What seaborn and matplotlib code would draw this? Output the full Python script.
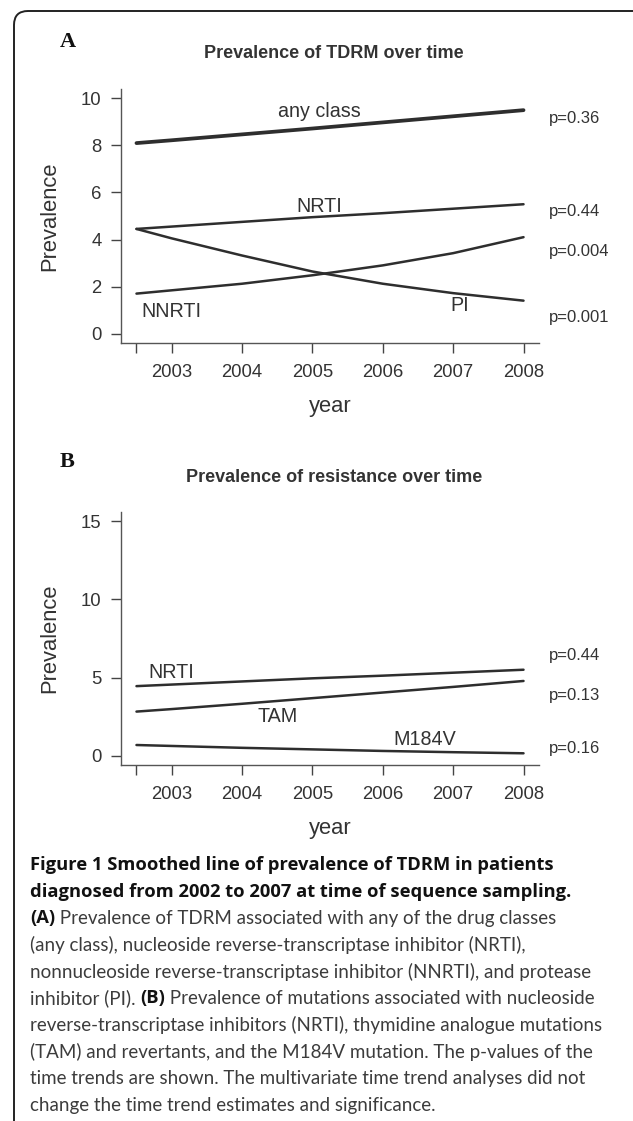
import pandas as pd
import matplotlib.pyplot as plt
import seaborn as sns
from matplotlib.patches import FancyBboxPatch
from matplotlib.text import Annotation

# panel A: smoothed prevalence of TDRM by drug class
years = [2002.5, 2003, 2004, 2005, 2006, 2007, 2008]
any_class = [8.10, 8.22, 8.47, 8.72, 8.98, 9.24, 9.50]
nrti = [4.45, 4.55, 4.75, 4.95, 5.12, 5.31, 5.50]
nnrti = [1.70, 1.84, 2.12, 2.48, 2.90, 3.42, 4.10]
pi = [4.45, 4.05, 3.32, 2.64, 2.12, 1.72, 1.40]

# panel B: smoothed prevalence of resistance mutations
nrti_b = [4.45, 4.55, 4.75, 4.95, 5.12, 5.31, 5.50]
tam = [2.82, 2.98, 3.32, 3.68, 4.04, 4.40, 4.78]
m184v = [0.68, 0.62, 0.50, 0.40, 0.30, 0.22, 0.15]

tick_years = [2002.5, 2003, 2004, 2005, 2006, 2007, 2008]
tick_labels = ["", "2003", "2004", "2005", "2006", "2007", "2008"]

df_a = pd.DataFrame({"year": years * 4,
                     "Prevalence": any_class + nrti + nnrti + pi,
                     "group": ["any class"] * 7 + ["NRTI"] * 7 + ["NNRTI"] * 7 + ["PI"] * 7})
df_b = pd.DataFrame({"year": years * 3,
                     "Prevalence": nrti_b + tam + m184v,
                     "group": ["NRTI"] * 7 + ["TAM"] * 7 + ["M184V"] * 7})

sns.set_style("ticks")
plt.rcParams["font.family"] = ["Liberation Sans", "DejaVu Sans"]

W, H = 633, 1121
fig = plt.figure(figsize=(W / 100, H / 100), dpi=100)

def px(x, y):
    return x / W, 1 - y / H

ink = "#333333"

def style_axes(ax, ymax, yticks):
    ax.set_xlim(2002.28, 2008.22)
    pad = ymax * 0.04
    ax.set_ylim(-pad, ymax + pad)
    ax.set_xticks(tick_years)
    ax.set_xticklabels(tick_labels)
    ax.set_yticks(yticks)
    sns.despine(ax=ax)
    for s in ["left", "bottom"]:
        ax.spines[s].set_color("#555555")
        ax.spines[s].set_linewidth(1.0)
    ax.tick_params(direction="out", length=7, width=1, color="#444444",
                   labelsize=13.3, labelcolor=ink)
    ax.tick_params(axis="x", pad=8)
    ax.tick_params(axis="y", pad=7)
    ax.set_xlabel("year", fontsize=15.8, color=ink, labelpad=11)
    ax.set_ylabel("Prevalence", fontsize=15.8, color=ink, labelpad=15)
    ax.set_facecolor("white")

# ---- panel A
ax1 = fig.add_axes([121 / W, 1 - 343 / H, 418 / W, 254 / H])
for name, lw in [("any class", 2.7), ("NRTI", 1.8), ("NNRTI", 1.8), ("PI", 1.8)]:
    sns.lineplot(data=df_a[df_a.group == name], x="year", y="Prevalence",
                 ax=ax1, color="#2e2e2e", linewidth=lw, legend=False)
style_axes(ax1, 10, [0, 2, 4, 6, 8, 10])
ax1.text(2005.1, 9.46, "any class", ha="center", va="center", fontsize=14.2, color=ink)
ax1.text(2005.1, 5.40, "NRTI", ha="center", va="center", fontsize=14.2, color=ink)
ax1.text(2003.0, 0.94, "NNRTI", ha="center", va="center", fontsize=14.2, color=ink)
ax1.text(2007.1, 1.20, "PI", ha="center", va="center", fontsize=14.2, color=ink)
for yv, lab in [(9.15, "p=0.36"), (5.18, "p=0.44"), (3.47, "p=0.004"), (0.70, "p=0.001")]:
    ax1.text(2008.36, yv, lab, ha="left", va="center", fontsize=12, color=ink, clip_on=False)
fig.text(*px(334, 54), "Prevalence of TDRM over time", ha="center", va="center",
         fontsize=13, fontweight="bold", color=ink)
fig.text(*px(68, 42), "A", ha="center", va="center", fontsize=16, fontweight="bold",
         family="Liberation Serif", color="#111111")

# ---- panel B
ax2 = fig.add_axes([121 / W, 1 - 765 / H, 418 / W, 253 / H])
for name in ["NRTI", "TAM", "M184V"]:
    sns.lineplot(data=df_b[df_b.group == name], x="year", y="Prevalence",
                 ax=ax2, color="#2e2e2e", linewidth=1.8, legend=False)
style_axes(ax2, 15, [0, 5, 10, 15])
ax2.text(2003.0, 5.35, "NRTI", ha="center", va="center", fontsize=14.2, color=ink)
ax2.text(2004.5, 2.53, "TAM", ha="center", va="center", fontsize=14.2, color=ink)
ax2.text(2006.6, 1.04, "M184V", ha="center", va="center", fontsize=14.2, color=ink)
for yv, lab in [(6.43, "p=0.44"), (3.83, "p=0.13"), (0.43, "p=0.16")]:
    ax2.text(2008.36, yv, lab, ha="left", va="center", fontsize=12, color=ink, clip_on=False)
fig.text(*px(334, 477), "Prevalence of resistance over time", ha="center", va="center",
         fontsize=13, fontweight="bold", color=ink)
fig.text(*px(67, 462), "B", ha="center", va="center", fontsize=16, fontweight="bold",
         family="Liberation Serif", color="#111111")

# ---- caption
cap_size = 13.5
caption = [
    [("Figure 1 Smoothed line of prevalence of TDRM in patients", True)],
    [("diagnosed from 2002 to 2007 at time of sequence sampling.", True)],
    [("(A)", True), (" Prevalence of TDRM associated with any of the drug classes", False)],
    [("(any class), nucleoside reverse-transcriptase inhibitor (NRTI),", False)],
    [("nonnucleoside reverse-transcriptase inhibitor (NNRTI), and protease", False)],
    [("inhibitor (PI). ", False), ("(B)", True), (" Prevalence of mutations associated with nucleoside", False)],
    [("reverse-transcriptase inhibitors (NRTI), thymidine analogue mutations", False)],
    [("(TAM) and revertants, and the M184V mutation. The p-values of the", False)],
    [("time trends are shown. The multivariate time trend analyses did not", False)],
    [("change the time trend estimates and significance.", False)],
]
for i, parts in enumerate(caption):
    yc = 865 + i * 26.67
    prev = None
    for txt, bold in parts:
        if bold:
            kw = dict(fontsize=13.2, family=["Open Sans", "DejaVu Sans"], fontweight="bold",
                      color="#111111")
        else:
            kw = dict(fontsize=cap_size, family=["Lato", "DejaVu Sans"], fontweight="normal",
                      color="#3c3c3c")
        kw.update(va="center", ha="left")
        if prev is None:
            prev = fig.text(*px(30, yc), txt, **kw)
        else:
            prev = fig.add_artist(Annotation(txt, xy=(1, 0.5), xycoords=prev, **kw))

# outer rounded frame
frame = FancyBboxPatch((14, -40), 640, H - 11 + 40, boxstyle="round,pad=0,rounding_size=14",
                       transform=None, fill=False, edgecolor="#222222", linewidth=1.4)
fig.patches.append(frame)

fig.savefig("out.png", dpi=100, facecolor="white")
